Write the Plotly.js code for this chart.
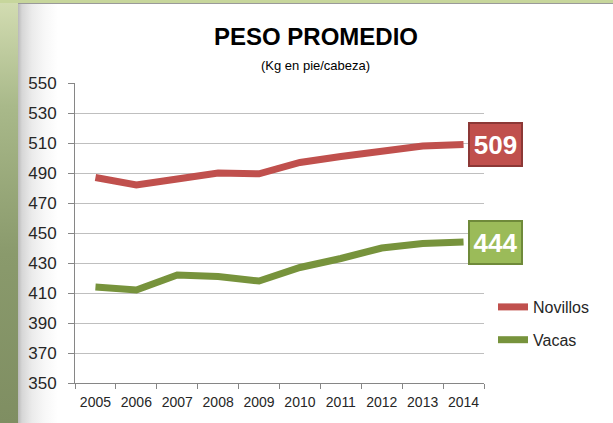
<!DOCTYPE html>
<html>
<head>
<meta charset="utf-8">
<script src="https://cdn.plot.ly/plotly-3.0.1.min.js"></script>
<style>
  html, body { margin: 0; padding: 0; }
  #frame { position: relative; width: 613px; height: 423px; overflow: hidden;
    background: linear-gradient(to bottom, #d3ddb2 0%, #a9b98a 25%, #8a9a6c 60%, #7f8e62 100%); }
  #panel { position: absolute; left: 18px; top: 3px; right: 0; bottom: 0;
    background: linear-gradient(to right, #b9b9b9 0px, #d6d6d6 4px, #ebebeb 14px, #f7f7f7 26px, #ffffff 40px);
    border-top: 1px solid #9a9a9a; }
  #topstrip { position: absolute; left: 0; top: 0; right: 0; height: 3px; background: #c7d69c; }
  #chart { position: absolute; left: 0; top: 0; width: 613px; height: 423px; }
</style>
</head>
<body>
<div id="frame">
  <div id="topstrip"></div>
  <div id="panel"></div>
  <div id="chart"></div>
</div>
<script>
const years = ['2005','2006','2007','2008','2009','2010','2011','2012','2013','2014'];
const novillos = [487, 482, 486, 490, 489.5, 497, 501, 505, 508, 509];
const vacas = [414, 412, 422, 421, 418, 427, 433, 440, 443, 444];
const yTicks = [350, 370, 390, 410, 430, 450, 470, 490, 510, 530, 550];
const titleText = '<b>PESO PROMEDIO</b>';
const subtitleText = '(Kg en pie/cabeza)';
const redColor = '#C0504D';
const greenColor = '#77933C';

const lastIdx = years.length - 1;

const traces = [
  { x: years, y: novillos, name: 'Novillos', type: 'scatter', mode: 'lines',
    line: { color: redColor, width: 7 }, legendgroup: 'a' },
  { x: years, y: vacas, name: 'Vacas', type: 'scatter', mode: 'lines',
    line: { color: greenColor, width: 7 }, legendgroup: 'b' }
];

const layout = {
  width: 613, height: 423,
  margin: { l: 75, r: 129, t: 83, b: 40 },
  paper_bgcolor: 'rgba(0,0,0,0)',
  plot_bgcolor: 'rgba(0,0,0,0)',
  font: { family: 'Liberation Sans, Arial, sans-serif', color: '#262626' },
  showlegend: true,
  legend: { x: 1.022, y: 0.31, xanchor: 'left', yanchor: 'top',
    font: { size: 16, color: '#262626' }, tracegroupgap: 9, traceorder: 'grouped',
    bgcolor: 'rgba(0,0,0,0)' },
  xaxis: {
    type: 'category', range: [-0.5, lastIdx + 0.5], autorange: false,
    tickson: 'boundaries', ticks: 'outside', ticklen: 5, tickangle: 0,
    ticklabelstandoff: 6,
    tickcolor: '#868686', showline: true, linecolor: '#868686', linewidth: 1,
    showgrid: false, tickfont: { size: 14, color: '#262626' }, fixedrange: true
  },
  yaxis: {
    range: [350, 550], autorange: false, tickvals: yTicks, ticks: 'outside', ticklen: 6,
    ticklabelstandoff: 8,
    tickcolor: '#868686', showline: true, linecolor: '#868686', linewidth: 1,
    showgrid: true, gridcolor: '#BFBFBF', gridwidth: 1, zeroline: false,
    tickfont: { size: 17, color: '#262626' }, fixedrange: true
  },
  annotations: [
    { text: titleText, xref: 'paper', yref: 'paper', x: 0.589, y: 1.0, yshift: 47,
      xanchor: 'center', yanchor: 'middle', showarrow: false,
      font: { size: 24, color: '#000000', family: 'Liberation Sans, Arial, sans-serif' } },
    { text: subtitleText, xref: 'paper', yref: 'paper', x: 0.589, y: 1.0, yshift: 18,
      xanchor: 'center', yanchor: 'middle', showarrow: false,
      font: { size: 13, color: '#000000' } },
    { text: '<b>' + novillos[lastIdx] + '</b>', x: lastIdx,
      y: novillos[lastIdx], xref: 'x', yref: 'y', xanchor: 'left', yanchor: 'middle',
      xshift: 4, showarrow: false, bgcolor: redColor, bordercolor: '#8C3836', borderwidth: 2,
      borderpad: 1, width: 49, height: 39, font: { size: 26, color: '#ffffff' } },
    { text: '<b>' + vacas[lastIdx] + '</b>', x: lastIdx,
      y: vacas[lastIdx], xref: 'x', yref: 'y', xanchor: 'left', yanchor: 'middle',
      xshift: 4, showarrow: false, bgcolor: '#9BBB59', bordercolor: '#6F8A3A', borderwidth: 2,
      borderpad: 1, width: 49, height: 39, font: { size: 26, color: '#ffffff' } }
  ]
};

Plotly.newPlot('chart', traces, layout, { displayModeBar: false, staticPlot: true });
</script>
</body>
</html>
